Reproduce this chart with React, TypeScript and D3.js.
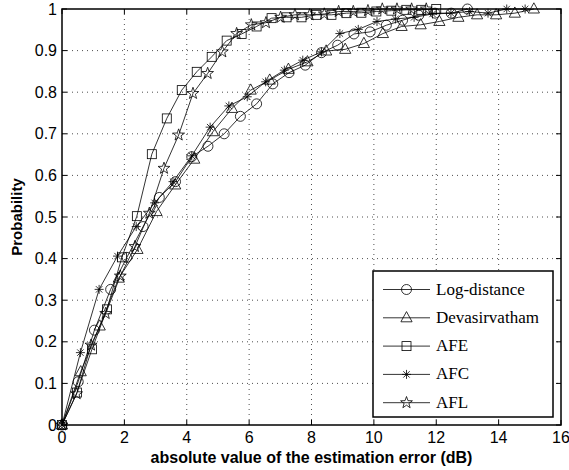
import React from 'react';
import * as d3 from 'd3';

// values
const logDistX = [0, 0.52, 1.04, 1.56, 2.08, 2.6, 3.12, 3.64, 4.16, 4.68, 5.2, 5.72, 6.24, 6.76, 7.28, 7.8, 8.32, 8.84, 9.36, 9.88, 10.4, 10.92, 11.44, 11.96, 12.48, 13.0];
const logDistY = [0, 0.104, 0.228, 0.326, 0.403, 0.477, 0.547, 0.585, 0.645, 0.67, 0.7, 0.742, 0.772, 0.82, 0.847, 0.865, 0.895, 0.913, 0.94, 0.945, 0.961, 0.973, 0.985, 0.99, 0.99, 1.0];

const devaX = [0, 0.6, 1.21, 1.82, 2.42, 3.03, 3.63, 4.24, 4.84, 5.45, 6.05, 6.66, 7.26, 7.87, 8.47, 9.08, 9.68, 10.29, 10.89, 11.5, 12.1, 12.71, 13.31, 13.92, 14.52, 15.13];
const devaY = [0, 0.128, 0.238, 0.353, 0.422, 0.513, 0.577, 0.639, 0.705, 0.761, 0.805, 0.829, 0.855, 0.873, 0.899, 0.903, 0.917, 0.941, 0.958, 0.962, 0.97, 0.98, 0.986, 0.986, 0.99, 1.0];

const afeX = [0, 0.48, 0.96, 1.44, 1.92, 2.4, 2.88, 3.36, 3.84, 4.32, 4.8, 5.28, 5.76, 6.24, 6.72, 7.2, 7.68, 8.16, 8.64, 9.12, 9.6, 10.08, 10.56, 11.04, 11.52, 12.0];
const afeY = [0, 0.078, 0.182, 0.278, 0.403, 0.502, 0.651, 0.737, 0.805, 0.849, 0.885, 0.924, 0.94, 0.958, 0.978, 0.98, 0.98, 0.986, 0.986, 0.99, 0.991, 0.994, 0.996, 0.998, 0.998, 1.0];

const afcX = [0, 0.59, 1.19, 1.78, 2.38, 2.97, 3.56, 4.16, 4.75, 5.35, 5.94, 6.53, 7.13, 7.72, 8.32, 8.91, 9.5, 10.1, 10.69, 11.29, 11.88, 12.47, 13.07, 13.66, 14.26, 14.85];
const afcY = [0, 0.174, 0.326, 0.406, 0.477, 0.534, 0.585, 0.647, 0.716, 0.767, 0.789, 0.825, 0.853, 0.877, 0.897, 0.941, 0.951, 0.97, 0.976, 0.98, 0.988, 0.99, 0.994, 0.99, 1.0, 1.0];

const aflX = [0, 0.47, 0.93, 1.4, 1.87, 2.34, 2.8, 3.27, 3.74, 4.2, 4.67, 5.14, 5.6, 6.07, 6.54, 7.01, 7.47, 7.94, 8.41, 8.87, 9.34, 9.81, 10.27, 10.74, 11.21, 11.68];
const aflY = [0, 0.075, 0.192, 0.268, 0.358, 0.429, 0.509, 0.617, 0.697, 0.797, 0.845, 0.897, 0.941, 0.962, 0.967, 0.98, 0.986, 0.986, 0.988, 0.994, 0.994, 0.996, 1.0, 1.0, 1.0, 1.0];

const seriesNames = ['Log-distance', 'Devasirvatham', 'AFE', 'AFC', 'AFL'];
const markerKinds = ['circle', 'triangle', 'square', 'asterisk', 'star'];

const xTicks = [0, 2, 4, 6, 8, 10, 12, 14, 16];
const yTicks = [0, 0.1, 0.2, 0.3, 0.4, 0.5, 0.6, 0.7, 0.8, 0.9, 1];
const yTickLabels = ['0', '0.1', '0.2', '0.3', '0.4', '0.5', '0.6', '0.7', '0.8', '0.9', '1'];

const W = 569;
const H = 470;
const left = 62, right = 561, top = 9, bottom = 425;

const starPath = (() => {
  const pts: string[] = [];
  for (let i = 0; i < 10; i++) {
    const r = i % 2 === 0 ? 6.2 : 2.5;
    const a = -Math.PI / 2 + (i * Math.PI) / 5;
    pts.push(`${(r * Math.cos(a)).toFixed(2)},${(r * Math.sin(a)).toFixed(2)}`);
  }
  return 'M' + pts.join('L') + 'Z';
})();

const Marker = ({ kind, x, y }: { kind: string; x: number; y: number }) => {
  const st = { fill: 'none', stroke: '#000', strokeWidth: 0.8 };
  const t = `translate(${x},${y})`;
  if (kind === 'circle') return <circle cx={x} cy={y} r={5} {...st} />;
  if (kind === 'triangle') return <path transform={t} d="M0,-6.2L5.6,4L-5.6,4Z" {...st} />;
  if (kind === 'square') return <rect x={x - 4.5} y={y - 4.5} width={9} height={9} {...st} />;
  if (kind === 'asterisk')
    return (
      <path transform={t} d="M-4.5,0L4.5,0M0,-4.5L0,4.5M-3.2,-3.2L3.2,3.2M-3.2,3.2L3.2,-3.2" {...st} />
    );
  return <path transform={t} d={starPath} {...st} />;
};

export default function App() {
  const x = d3.scaleLinear().domain([0, 16]).range([left, right]);
  const y = d3.scaleLinear().domain([0, 1]).range([bottom, top]);

  const allX = [logDistX, devaX, afeX, afcX, aflX];
  const allY = [logDistY, devaY, afeY, afcY, aflY];
  const series = allX.map((xs, i) => xs.map((v, j) => [v, allY[i][j]] as [number, number]));

  const line = d3
    .line<[number, number]>()
    .x((d) => x(d[0]))
    .y((d) => y(d[1]));

  const tickFont = 'Liberation Sans, Arial, sans-serif';
  const legX = 373, legY = 271, legW = 180, legH = 146;
  const rowH = 28.3;

  return (
    <svg width={W} height={H} style={{ position: 'absolute', left: 0, top: 0, background: '#fff' }}>
      <rect x={0} y={0} width={W} height={H} fill="#fff" />
      {/* grid */}
      {xTicks.slice(1, -1).map((t) => (
        <line key={'gx' + t} x1={x(t)} x2={x(t)} y1={top} y2={bottom} stroke="#222" strokeWidth={0.8} strokeDasharray="1,4" />
      ))}
      {yTicks.slice(1, -1).map((t) => (
        <line key={'gy' + t} x1={left} x2={right} y1={y(t)} y2={y(t)} stroke="#222" strokeWidth={0.8} strokeDasharray="1,4" />
      ))}

      {/* series */}
      {series.map((s, i) => (
        <g key={seriesNames[i]}>
          <path d={line(s) || ''} fill="none" stroke="#000" strokeWidth={0.8} />
          {s.map((d, j) => (
            <Marker key={j} kind={markerKinds[i]} x={x(d[0])} y={y(d[1])} />
          ))}
        </g>
      ))}

      {/* frame and ticks */}
      <rect x={left} y={top} width={right - left} height={bottom - top} fill="none" stroke="#000" strokeWidth={1.5} />
      {xTicks.map((t) => (
        <g key={'tx' + t}>
          <line x1={x(t)} x2={x(t)} y1={bottom} y2={bottom - 5} stroke="#000" />
          <line x1={x(t)} x2={x(t)} y1={top} y2={top + 5} stroke="#000" />
          <text x={x(t)} y={443} textAnchor="middle" fontFamily={tickFont} fontSize={16}>
            {t}
          </text>
        </g>
      ))}
      {yTicks.map((t, i) => (
        <g key={'ty' + t}>
          <line x1={left} x2={left + 5} y1={y(t)} y2={y(t)} stroke="#000" />
          <line x1={right} x2={right - 5} y1={y(t)} y2={y(t)} stroke="#000" />
          <text x={57} y={y(t) + 5.5} textAnchor="end" fontFamily={tickFont} fontSize={16}>
            {yTickLabels[i]}
          </text>
        </g>
      ))}

      <text x={(left + right) / 2} y={463} textAnchor="middle" fontFamily={tickFont} fontSize={16} fontWeight="bold">
        absolute value of the estimation error (dB)
      </text>
      <text
        transform={`translate(22,${(top + bottom) / 2}) rotate(-90)`}
        textAnchor="middle"
        fontFamily={tickFont}
        fontSize={15}
        fontWeight="bold"
      >
        Probability
      </text>

      {/* legend */}
      <rect x={legX} y={legY} width={legW} height={legH} fill="#fff" stroke="#000" strokeWidth={1.5} />
      {seriesNames.map((name, i) => {
        const cy = legY + 18.5 + i * rowH;
        return (
          <g key={'leg' + name}>
            <line x1={383} x2={430} y1={cy} y2={cy} stroke="#000" strokeWidth={0.8} />
            <Marker kind={markerKinds[i]} x={406.5} y={cy} />
            <text x={436} y={cy + 5} fontFamily="Liberation Serif, Times New Roman, serif" fontSize={17}>
              {name}
            </text>
          </g>
        );
      })}
    </svg>
  );
}
